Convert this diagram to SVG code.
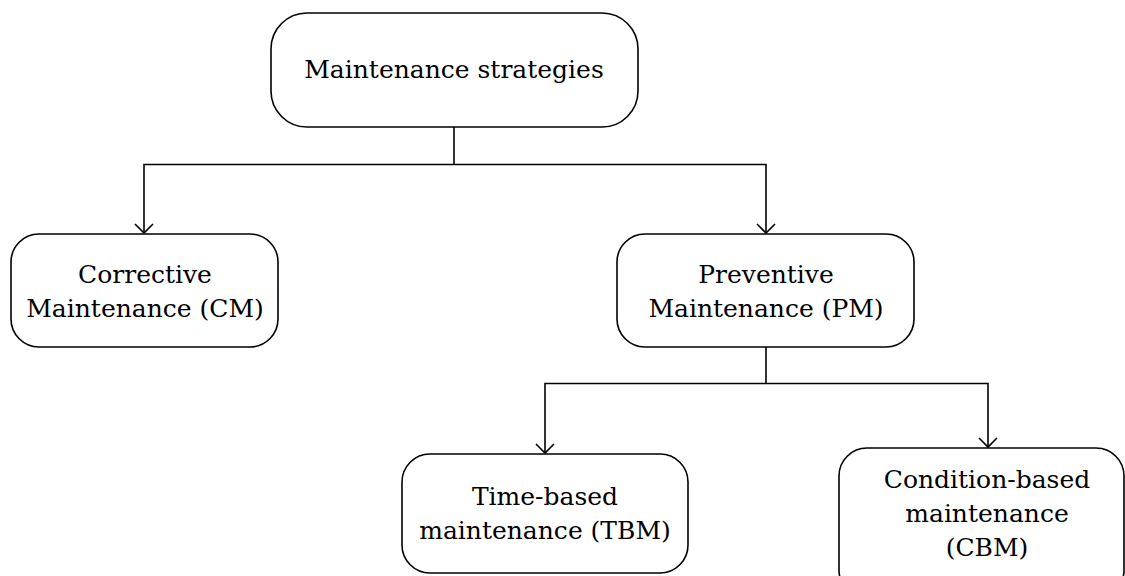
<svg xmlns="http://www.w3.org/2000/svg" width="1125" height="576" viewBox="0 0 1125 576">
  <style>
    .box { fill: #ffffff; stroke: #000000; stroke-width: 1.6; }
    .label { font-family: "DejaVu Serif", "Liberation Serif", serif; font-size: 25px; fill: #000000; text-anchor: middle; }
    .wire { fill: none; stroke: #000000; stroke-width: 1.6; }
  </style>
  <defs>
    <!-- open V arrowhead, about 18px across and 9px deep -->
    <marker id="arrow" markerUnits="userSpaceOnUse" markerWidth="22" markerHeight="22" refX="10" refY="11" orient="auto">
      <path d="M1,2 L10,11 L1,20" fill="none" stroke="#000000" stroke-width="1.6"/>
    </marker>
  </defs>
  <rect width="1125" height="576" fill="#ffffff"/>

  <g id="connectors">
    <polyline class="wire" points="454,127 454,164.5"/>
    <polyline class="wire" points="454,164.5 144,164.5 144,233" marker-end="url(#arrow)"/>
    <polyline class="wire" points="454,164.5 766,164.5 766,233" marker-end="url(#arrow)"/>
    <polyline class="wire" points="766,347 766,383.5"/>
    <polyline class="wire" points="766,383.5 545,383.5 545,453" marker-end="url(#arrow)"/>
    <polyline class="wire" points="766,383.5 988,383.5 988,447" marker-end="url(#arrow)"/>
  </g>

  <g id="node-strategies">
    <rect class="box" x="271" y="13" width="367" height="114" rx="36" ry="36"/>
    <text class="label" x="454" y="78">Maintenance strategies</text>
  </g>

  <g id="node-cm">
    <rect class="box" x="11" y="234" width="267" height="113" rx="28" ry="28"/>
    <text class="label" x="145" y="283">Corrective</text>
    <text class="label" x="145" y="317">Maintenance (CM)</text>
  </g>

  <g id="node-pm">
    <rect class="box" x="617" y="234" width="297" height="113" rx="28" ry="28"/>
    <text class="label" x="766" y="283">Preventive</text>
    <text class="label" x="766" y="317">Maintenance (PM)</text>
  </g>

  <g id="node-tbm">
    <rect class="box" x="402" y="454" width="286" height="119" rx="28" ry="28"/>
    <text class="label" x="545" y="505">Time-based</text>
    <text class="label" x="545" y="539">maintenance (TBM)</text>
  </g>

  <g id="node-cbm">
    <rect class="box" x="839" y="448" width="285" height="150" rx="28" ry="28"/>
    <text class="label" x="987" y="488">Condition-based</text>
    <text class="label" x="987" y="522">maintenance</text>
    <text class="label" x="987" y="556">(CBM)</text>
  </g>
</svg>
